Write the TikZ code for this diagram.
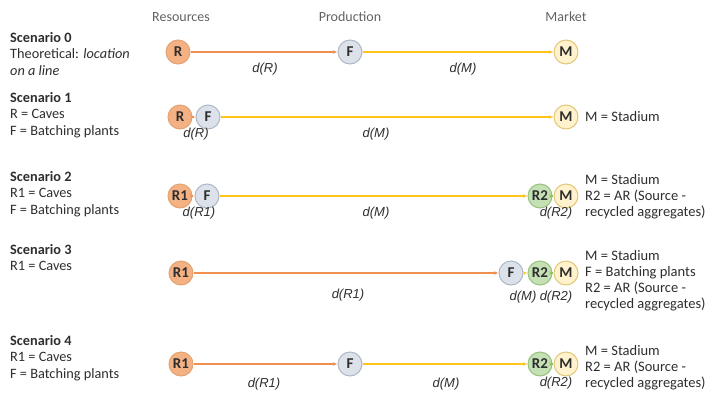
\documentclass[tikz,border=0pt]{standalone}
\usepackage{fontspec}
\setmainfont{Carlito}
\newfontfamily\arialfont{Liberation Sans}
\usetikzlibrary{arrows.meta}
\definecolor{rfill}{HTML}{F4B183}
\definecolor{rdraw}{HTML}{E3A373}
\definecolor{ffill}{HTML}{DDE2EA}
\definecolor{fdraw}{HTML}{AEB8C6}
\definecolor{mfill}{HTML}{FFF2CC}
\definecolor{mdraw}{HTML}{E2C77A}
\definecolor{gfill}{HTML}{C5E0B4}
\definecolor{gdraw}{HTML}{98C37E}
\definecolor{lorange}{HTML}{ED7D31}
\definecolor{lyellow}{HTML}{FFC000}
\definecolor{lgreen}{HTML}{8CC168}
\definecolor{txt}{HTML}{2E2E2E}
\tikzset{
  pt/.style={circle,minimum size=24pt,inner sep=0pt,line width=1pt,font=\fontsize{15}{15}\selectfont\bfseries,text=txt},
  rnode/.style={pt,fill=rfill,draw=rdraw},
  fnode/.style={pt,fill=ffill,draw=fdraw},
  mnode/.style={pt,fill=mfill,draw=mdraw},
  gnode/.style={pt,fill=gfill,draw=gdraw},
  con/.style={line width=1.3pt,-{Stealth[length=4pt,width=3.5pt]},shorten >=0.5pt},
  oline/.style={con,draw=lorange!85},
  yline/.style={con,draw=lyellow!90},
  gline/.style={con,draw=lgreen},
  dlab/.style={font=\arialfont\itshape\fontsize{13}{13}\selectfont,text=txt},
  lab/.style={anchor=north west,font=\fontsize{14.3}{16.5}\selectfont,text=txt,align=left,inner sep=0pt},
  rlab/.style={anchor=north west,font=\fontsize{14.5}{16}\selectfont,text=txt,align=left,inner sep=0pt},
  head/.style={font=\fontsize{14}{14}\selectfont,text=txt!75}
}
\begin{document}
\begin{tikzpicture}[x=1pt,y=-1pt]
\useasboundingbox (0,0) rectangle (706,394);
% headers
\node[head] (hR) at (181,17) {Resources};
\node[head] (hP) at (350,17) {Production};
\node[head] (hM) at (566,17) {Market};

% Scenario 0
\node[lab] (s0) at (10,32) {\textbf{Scenario 0}\\Theoretical: \textit{location}\\\textit{on a line}};
\node[rnode] (r0) at (178,52) {R};
\node[fnode] (f0) at (350,52) {F};
\node[mnode] (m0) at (566,52) {M};
\draw[oline] (r0) -- (f0);
\draw[yline] (f0) -- (m0);
\node[dlab] (d0a) at (265,69) {d(R)};
\node[dlab] (d0b) at (463,69) {d(M)};

% Scenario 1
\node[lab] (s1) at (10,92) {\textbf{Scenario 1}\\R = Caves\\F = Batching plants};
\node[rnode] (r1) at (180,117) {R};
\node[fnode] (f1) at (208,117) {F};
\node[mnode] (m1) at (566,117) {M};
\draw[oline] (r1) -- (f1);
\draw[yline] (f1) -- (m1);
\node[dlab] (d1a) at (196,134) {d(R)};
\node[dlab] (d1b) at (376,134) {d(M)};
\node[rlab,anchor=west] (t1) at (585,117) {M = Stadium};

% Scenario 2
\node[lab] (s2) at (10,171) {\textbf{Scenario 2}\\R1 = Caves\\F = Batching plants};
\node[rnode] (r2) at (180,196) {R1};
\node[fnode] (f2) at (207,196) {F};
\node[gnode] (g2) at (540,196) {R2};
\node[mnode] (m2) at (566,196) {M};
\draw[oline] (r2) -- (f2);
\draw[yline] (f2) -- (g2);
\draw[gline] (g2) -- (m2);
\node[dlab] (d2a) at (199,213) {d(R1)};
\node[dlab] (d2b) at (376,213) {d(M)};
\node[dlab] (d2c) at (556,213) {d(R2)};
\node[rlab] (t2) at (585,174) {M = Stadium\\R2 = AR (Source -\\recycled aggregates)};

% Scenario 3
\node[lab] (s3) at (10,244) {\textbf{Scenario 3}\\R1 = Caves};
\node[rnode] (r3) at (181,273) {R1};
\node[fnode] (f3) at (511,273) {F};
\node[gnode] (g3) at (540,273) {R2};
\node[mnode] (m3) at (566,273) {M};
\draw[oline] (r3) -- (f3);
\draw[yline] (f3) -- (g3);
\draw[gline] (g3) -- (m3);
\node[dlab] (d3a) at (348,295) {d(R1)};
\node[dlab] (d3b) at (523,297) {d(M)};
\node[dlab] (d3c) at (556,297) {d(R2)};
\node[rlab] (t3) at (585,250) {M = Stadium\\F = Batching plants\\R2 = AR (Source -\\recycled aggregates)};

% Scenario 4
\node[lab] (s4) at (10,335) {\textbf{Scenario 4}\\R1 = Caves\\F = Batching plants};
\node[rnode] (r4) at (181,364) {R1};
\node[fnode] (f4) at (350,364) {F};
\node[gnode] (g4) at (540,364) {R2};
\node[mnode] (m4) at (566,364) {M};
\draw[oline] (r4) -- (f4);
\draw[yline] (f4) -- (g4);
\draw[gline] (g4) -- (m4);
\node[dlab] (d4a) at (264,384) {d(R1)};
\node[dlab] (d4b) at (446,384) {d(M)};
\node[dlab] (d4c) at (556,383) {d(R2)};
\node[rlab] (t4) at (585,345) {M = Stadium\\R2 = AR (Source -\\recycled aggregates)};
\end{tikzpicture}
\end{document}
